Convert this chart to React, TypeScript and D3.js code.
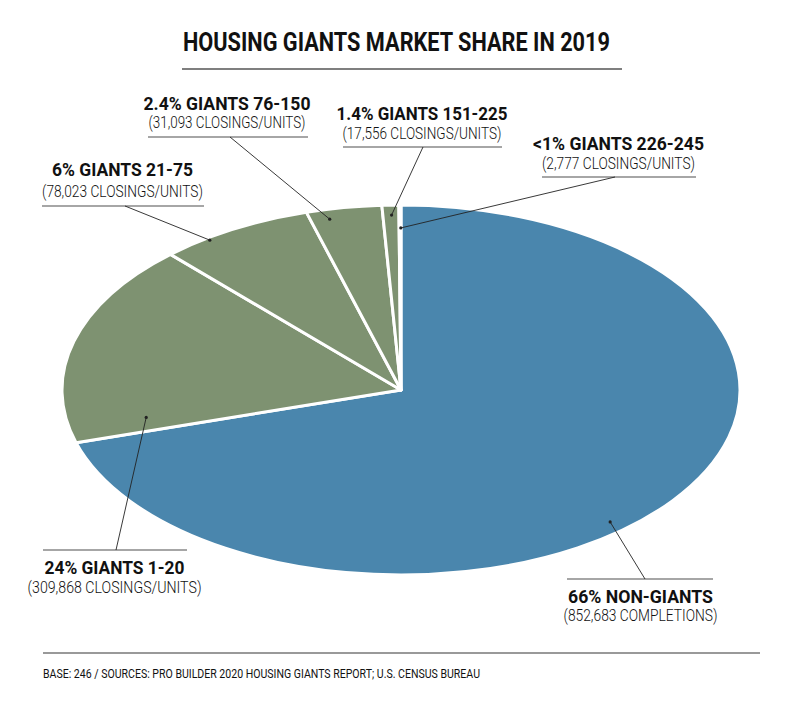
import React from "react";
import * as d3 from "d3";

// ---- data ----
const categories = ["NON-GIANTS", "GIANTS 1-20", "GIANTS 21-75", "GIANTS 76-150", "GIANTS 151-225", "GIANTS 226-245"];
const shareLabels = ["66%", "24%", "6%", "2.4%", "1.4%", "<1%"];
const units = [852683, 309868, 78023, 31093, 17556, 2777];
const unitWords = ["COMPLETIONS", "CLOSINGS/UNITS", "CLOSINGS/UNITS", "CLOSINGS/UNITS", "CLOSINGS/UNITS", "CLOSINGS/UNITS"];
// slice sizes as they are drawn in the picture (percent of the ellipse)
const drawnShare = [70.4, 17.7, 7.4, 3.6, 0.8, 0.1];
const titleText = "HOUSING GIANTS MARKET SHARE IN 2019";
const footText = "BASE: 246 / SOURCES: PRO BUILDER 2020 HOUSING GIANTS REPORT; U.S. CENSUS BUREAU";

// ---- layout ----
const W = 800, H = 703;
const CX = 401, CY = 390, RX = 339, RY = 185;
const BLUE = "#4A86AD", GREEN = "#7E9271";

type Lay = { tx: number; b1: number; w1: number; b2: number; w2: number; r1: number; r2: number; ry: number; lx: number; at: number; ar: number };
const layout: Lay[] = [
  { tx: 640.5, b1: 603, w1: 145, b2: 621, w2: 154, r1: 567, r2: 713, ry: 579, lx: 645, at: 0.549, ar: 0.943 },
  { tx: 114.5, b1: 574, w1: 140, b2: 593, w2: 174, r1: 43, r2: 187, ry: 550, lx: 116, at: 0.085, ar: 0.766 },
  { tx: 122.5, b1: 176, w1: 141, b2: 197, w2: 161, r1: 42, r2: 204, ry: 206, lx: 125, at: 0.3, ar: 0.987 },
  { tx: 227, b1: 110, w1: 167, b2: 128, w2: 157, r1: 148, r2: 308, ry: 137, lx: 230, at: 0.26, ar: 0.947 },
  { tx: 422, b1: 120, w1: 171, b2: 139, w2: 159, r1: 343, r2: 502, ry: 147, lx: 423, at: 0.54, ar: 0.946 },
  { tx: 618.5, b1: 150, w1: 171, b2: 169, w2: 153, r1: 542, r2: 696, ry: 177, lx: 615, at: 0.9, ar: 0.876 },
];

const FONT = "'Roboto', 'Liberation Sans Narrow', 'DejaVu Sans', sans-serif";

export default function App() {
  const pie = d3.pie<number>().sort(null).startAngle(0).endAngle(2 * Math.PI);
  const arcs = pie(drawnShare);
  const arcGen = d3.arc<d3.PieArcDatum<number>>().innerRadius(0).outerRadius(RX);
  const fmt = d3.format(",");

  return (
    <svg width={W} height={H} style={{ position: "absolute", left: 0, top: 0, background: "#fff" }}>
      <rect width={W} height={H} fill="#fff" />
      <text x={396.5} y={51} textAnchor="middle" fontFamily={FONT} fontWeight={700} fontSize={25.5}
        textLength={427} lengthAdjust="spacingAndGlyphs" fill="#111">{titleText}</text>
      <line x1={182} x2={622} y1={69} y2={69} stroke="#555" strokeWidth={1.5} />

      <g transform={`translate(${CX},${CY}) scale(1,${RY / RX})`}>
        {arcs.map((a, i) => (
          <path key={i} d={arcGen(a) || ""} fill={i === 0 ? BLUE : GREEN} stroke="#fff" strokeWidth={3}
            strokeLinejoin="round" vectorEffect="non-scaling-stroke" />
        ))}
      </g>

      {arcs.map((a, i) => {
        const L = layout[i];
        const ang = a.startAngle + (a.endAngle - a.startAngle) * L.at;
        const px = CX + RX * L.ar * Math.sin(ang);
        const py = CY - RY * L.ar * Math.cos(ang);
        return (
          <g key={"l" + i}>
            <line x1={L.r1} x2={L.r2} y1={L.ry} y2={L.ry} stroke="#888" strokeWidth={1.3} />
            <line x1={L.lx} y1={L.ry} x2={px} y2={py} stroke="#222" strokeWidth={0.9} />
            <circle cx={px} cy={py} r={1.6} fill="#222" />
            <text x={L.tx} y={L.b1} textAnchor="middle" fontFamily={FONT} fontWeight={700} fontSize={18.5}
              textLength={L.w1} lengthAdjust="spacingAndGlyphs" fill="#111">
              {shareLabels[i] + " " + categories[i]}
            </text>
            <text x={L.tx} y={L.b2} textAnchor="middle" fontFamily={FONT} fontWeight={300} fontSize={16.5}
              textLength={L.w2} lengthAdjust="spacingAndGlyphs" fill="#111">
              {"(" + fmt(units[i]) + " " + unitWords[i] + ")"}
            </text>
          </g>
        );
      })}

      <line x1={43} x2={760} y1={653} y2={653} stroke="#999" strokeWidth={2} />
      <text x={43} y={678} fontFamily={FONT} fontWeight={400} fontSize={12.5} textLength={437}
        lengthAdjust="spacingAndGlyphs" fill="#111">{footText}</text>
    </svg>
  );
}
